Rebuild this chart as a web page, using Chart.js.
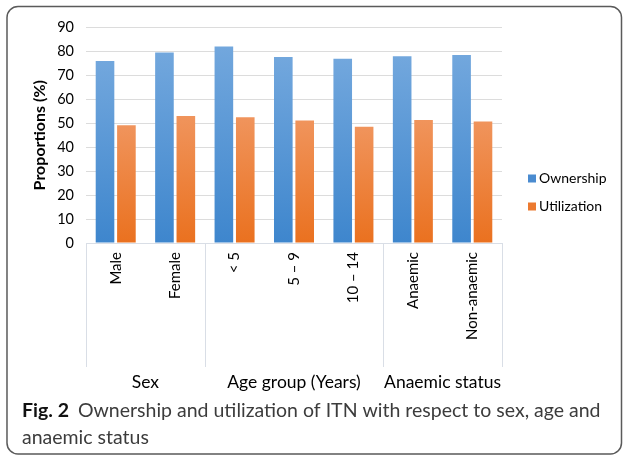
<!DOCTYPE html>
<html>
<head>
<meta charset="utf-8">
<script src="https://cdn.jsdelivr.net/npm/chart.js@4/dist/chart.umd.min.js"></script>
<style>
  html, body { margin: 0; padding: 0; background: #fff; }
  #wrap { width: 624px; height: 456px; position: relative; }
</style>
</head>
<body>
<div id="wrap"><canvas id="itn-graph" width="624" height="456"></canvas></div>
<script>
const categories = ['Male', 'Female', '< 5', '5 – 9', '10 – 14', 'Anaemic', 'Non-anaemic']
const ownership = [76, 79.6, 82.1, 77.7, 76.9, 78, 78.5]
const utilization = [49.2, 53, 52.5, 51.2, 48.6, 51.4, 50.7]
const groups = ['Sex', 'Age group (Years)', 'Anaemic status']
const groupSizes = [2, 3, 2]
const seriesNames = ['Ownership', 'Utilization']
const FONT = 'Lato'

// vertical gradient per bar, lighter at the top like the Excel fill
function barFill (top, bottom) {
  return (context) => {
    const chart = context.chart
    if (!chart.chartArea || context.raw === undefined) return bottom
    const y = chart.scales.y
    const g = chart.ctx.createLinearGradient(0, y.getPixelForValue(context.raw), 0, y.getPixelForValue(0))
    g.addColorStop(0, top)
    g.addColorStop(1, bottom)
    return g
  }
}

const swatches = ['#4a8bd0', '#ec7a30']

const decorPlugin = {
  id: 'decorPlugin',
  beforeDraw (chart) {
    const { ctx } = chart
    ctx.save()
    ctx.strokeStyle = '#5a5a5a'
    ctx.lineWidth = 1.5
    ctx.beginPath()
    ctx.roundRect(7, 6.5, 614.5, 447.5, 11)
    ctx.stroke()
    ctx.restore()
  },
  afterDraw (chart) {
    const { ctx, chartArea } = chart
    const x = chart.scales.x
    const base = chartArea.bottom
    ctx.save()

    // axis line and group separators
    ctx.strokeStyle = '#d9dee6'
    ctx.lineWidth = 1
    ctx.beginPath()
    ctx.moveTo(chartArea.left, base + 0.5)
    ctx.lineTo(chartArea.right, base + 0.5)
    const bounds = [chartArea.left]
    let idx = 0
    groupSizes.forEach((n) => {
      idx += n
      if (idx < categories.length) {
        bounds.push((x.getPixelForTick(idx - 1) + x.getPixelForTick(idx)) / 2)
      } else {
        bounds.push(chartArea.right)
      }
    })
    bounds.forEach((bx) => {
      const px = Math.round(bx) + 0.5
      ctx.moveTo(px, base)
      ctx.lineTo(px, 367)
    })
    ctx.stroke()

    // group labels
    ctx.fillStyle = '#000'
    ctx.font = `17.5px ${FONT}`
    ctx.textAlign = 'center'
    ctx.textBaseline = 'middle'
    groups.forEach((g, i) => {
      ctx.fillText(g, (bounds[i] + bounds[i + 1]) / 2, 382)
    })

    // legend
    ctx.textAlign = 'left'
    ctx.font = `14px ${FONT}`
    seriesNames.forEach((name, i) => {
      const cy = 178.5 + i * 28
      ctx.fillStyle = swatches[i]
      ctx.fillRect(528, cy - 4, 8, 8)
      ctx.fillStyle = '#000'
      ctx.fillText(name, 539, cy)
    })

    // caption
    ctx.font = `bold 19.5px ${FONT}`
    ctx.fillStyle = '#111'
    ctx.fillText('Fig. 2', 22, 411)
    const w = ctx.measureText('Fig. 2').width
    ctx.font = `19.5px ${FONT}`
    ctx.fillStyle = '#3c3c3c'
    ctx.fillText('Ownership and utilization of ITN with respect to sex, age and', 22 + w + 9, 411)
    ctx.fillText('anaemic status', 22, 438)
    ctx.restore()
  }
}

new Chart(document.getElementById('itn-graph').getContext('2d'), {
  type: 'bar',
  data: {
    labels: categories,
    datasets: [
      {
        label: seriesNames[0],
        data: ownership,
        backgroundColor: barFill('#72a7dd', '#3e86cd'),
        categoryPercentage: 0.72,
        barPercentage: 0.87
      },
      {
        label: seriesNames[1],
        data: utilization,
        backgroundColor: barFill('#f0945c', '#ea711f'),
        categoryPercentage: 0.72,
        barPercentage: 0.87
      }
    ]
  },
  options: {
    responsive: false,
    animation: false,
    layout: { padding: { left: 8, right: 122, top: 27.5, bottom: 63 } },
    plugins: {
      legend: { display: false },
      tooltip: { enabled: false }
    },
    scales: {
      x: {
        afterFit (scale) { scale.height = 150 },
        grid: { display: false, drawTicks: false },
        border: { display: false },
        ticks: {
          minRotation: 90,
          maxRotation: 90,
          padding: 9,
          color: '#000',
          font: { family: FONT, size: 15 }
        }
      },
      y: {
        min: 0,
        max: 90,
        afterFit (scale) { scale.width = 78 },
        grid: { color: '#dcdcdc', drawTicks: false },
        border: { display: false },
        ticks: {
          stepSize: 10,
          padding: 12,
          color: '#000',
          font: { family: FONT, size: 14.5 }
        },
        title: {
          display: true,
          text: 'Proportions (%)',
          color: '#000',
          padding: { top: 22, bottom: 0 },
          font: { family: FONT, size: 16, weight: 'bold' }
        }
      }
    }
  },
  plugins: [decorPlugin]
})
</script>
</body>
</html>
